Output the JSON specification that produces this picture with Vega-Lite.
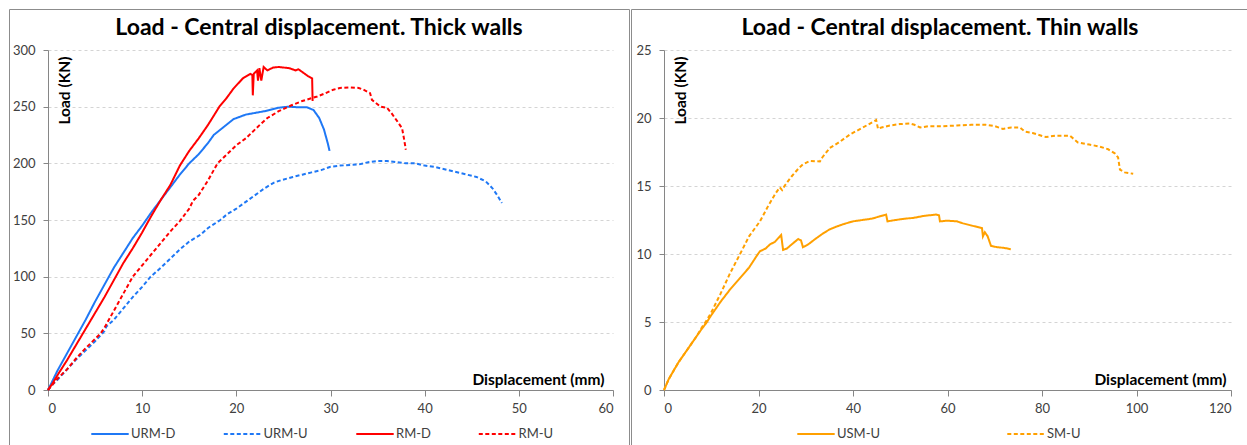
{
  "$schema": "https://vega.github.io/schema/vega-lite/v6.json",
  "padding": {"left": 8, "top": 8, "right": 0, "bottom": 0},
  "spacing": 0,
  "background": "white",
  "resolve": {"scale": {"color": "independent", "strokeDash": "independent"}, "legend": {"color": "independent", "strokeDash": "independent"}},
  "config": {
    "font": "Lato",
    "view": {"stroke": "#8c8c8c", "strokeWidth": 1},
    "axis": {
      "domainColor": "#868686",
      "tickColor": "#868686",
      "labelColor": "#404040",
      "labelFontSize": 13,
      "labelFont": "Lato",
      "titleFont": "Lato",
      "titleFontSize": 15.5,
      "titleFontWeight": "bold",
      "titleColor": "#000000",
      "gridColor": "#d4d4d4",
      "gridDash": [3, 3],
      "gridWidth": 1
    },
    "title": {"font": "Lato", "fontSize": 23, "fontWeight": "bold", "color": "#000000", "anchor": "middle", "frame": "group", "offset": -31},
    "legend": {"labelFont": "Lato", "labelFontSize": 13, "labelColor": "#404040"}
  },
  "hconcat": [
    {
      "width": 620,
      "height": 436,
      "title": {"text": "Load - Central displacement. Thick walls"},
      "data": {"values": [
        {"series":"URM-D","disp":0,"load":0},{"series":"URM-D","disp":0.3,"load":5},{"series":"URM-D","disp":1,"load":17},{"series":"URM-D","disp":2,"load":32},{"series":"URM-D","disp":3,"load":47},{"series":"URM-D","disp":4,"load":62},{"series":"URM-D","disp":5,"load":78},{"series":"URM-D","disp":6,"load":93},{"series":"URM-D","disp":7,"load":108},{"series":"URM-D","disp":8,"load":121},{"series":"URM-D","disp":9,"load":134},{"series":"URM-D","disp":10,"load":145},{"series":"URM-D","disp":11,"load":157},{"series":"URM-D","disp":12,"load":168},{"series":"URM-D","disp":13,"load":179},{"series":"URM-D","disp":14,"load":190},{"series":"URM-D","disp":15,"load":200},{"series":"URM-D","disp":16,"load":208},{"series":"URM-D","disp":17,"load":218},{"series":"URM-D","disp":17.6,"load":225},{"series":"URM-D","disp":18.5,"load":231},{"series":"URM-D","disp":19.7,"load":239},{"series":"URM-D","disp":21,"load":243},{"series":"URM-D","disp":22,"load":244.5},{"series":"URM-D","disp":23,"load":246},{"series":"URM-D","disp":24.4,"load":249},{"series":"URM-D","disp":25.5,"load":250},{"series":"URM-D","disp":26.5,"load":249.5},{"series":"URM-D","disp":27.5,"load":249.5},{"series":"URM-D","disp":28.2,"load":247},{"series":"URM-D","disp":28.8,"load":240},{"series":"URM-D","disp":29.3,"load":230},{"series":"URM-D","disp":29.7,"load":218},{"series":"URM-D","disp":29.9,"load":211},
        {"series":"URM-U","disp":0,"load":0},{"series":"URM-U","disp":0.5,"load":5},{"series":"URM-U","disp":1,"load":9},{"series":"URM-U","disp":2,"load":18},{"series":"URM-U","disp":3,"load":27},{"series":"URM-U","disp":4,"load":35},{"series":"URM-U","disp":5,"load":43},{"series":"URM-U","disp":6,"load":52},{"series":"URM-U","disp":6.2,"load":56},{"series":"URM-U","disp":7,"load":62},{"series":"URM-U","disp":8,"load":72},{"series":"URM-U","disp":9,"load":82},{"series":"URM-U","disp":10,"load":91},{"series":"URM-U","disp":10.9,"load":100},{"series":"URM-U","disp":12,"load":108},{"series":"URM-U","disp":13,"load":116},{"series":"URM-U","disp":14,"load":124},{"series":"URM-U","disp":15,"load":131},{"series":"URM-U","disp":16.2,"load":137},{"series":"URM-U","disp":17,"load":143},{"series":"URM-U","disp":18.3,"load":150},{"series":"URM-U","disp":19,"load":155},{"series":"URM-U","disp":20,"load":160},{"series":"URM-U","disp":21,"load":166},{"series":"URM-U","disp":22,"load":172},{"series":"URM-U","disp":23,"load":178},{"series":"URM-U","disp":24,"load":183},{"series":"URM-U","disp":24.7,"load":185},{"series":"URM-U","disp":26,"load":188},{"series":"URM-U","disp":27,"load":190},{"series":"URM-U","disp":28,"load":192},{"series":"URM-U","disp":29,"load":194},{"series":"URM-U","disp":30,"load":197},{"series":"URM-U","disp":31,"load":198},{"series":"URM-U","disp":33,"load":199},{"series":"URM-U","disp":34,"load":201},{"series":"URM-U","disp":35,"load":202},{"series":"URM-U","disp":36,"load":202},{"series":"URM-U","disp":37,"load":201},{"series":"URM-U","disp":38,"load":200},{"series":"URM-U","disp":39,"load":200},{"series":"URM-U","disp":40,"load":198},{"series":"URM-U","disp":41,"load":197},{"series":"URM-U","disp":42,"load":195},{"series":"URM-U","disp":43,"load":193},{"series":"URM-U","disp":44.5,"load":190},{"series":"URM-U","disp":45.5,"load":188},{"series":"URM-U","disp":46.5,"load":184},{"series":"URM-U","disp":47.2,"load":178},{"series":"URM-U","disp":47.7,"load":172},{"series":"URM-U","disp":48.2,"load":165},
        {"series":"RM-D","disp":0,"load":0},{"series":"RM-D","disp":0.5,"load":6},{"series":"RM-D","disp":1,"load":13},{"series":"RM-D","disp":2,"load":26},{"series":"RM-D","disp":3,"load":40},{"series":"RM-D","disp":4,"load":54},{"series":"RM-D","disp":5,"load":68},{"series":"RM-D","disp":6,"load":82},{"series":"RM-D","disp":7,"load":97},{"series":"RM-D","disp":8,"load":112},{"series":"RM-D","disp":9,"load":125},{"series":"RM-D","disp":10,"load":139},{"series":"RM-D","disp":11,"load":154},{"series":"RM-D","disp":12,"load":168},{"series":"RM-D","disp":13,"load":181},{"series":"RM-D","disp":14,"load":198},{"series":"RM-D","disp":15,"load":211},{"series":"RM-D","disp":16,"load":222},{"series":"RM-D","disp":17,"load":234},{"series":"RM-D","disp":17.6,"load":242},{"series":"RM-D","disp":18.2,"load":250},{"series":"RM-D","disp":19,"load":258},{"series":"RM-D","disp":19.7,"load":266},{"series":"RM-D","disp":20.7,"load":275},{"series":"RM-D","disp":21.5,"load":279},{"series":"RM-D","disp":21.7,"load":278},{"series":"RM-D","disp":21.75,"load":260},{"series":"RM-D","disp":21.85,"load":279},{"series":"RM-D","disp":22.2,"load":282},{"series":"RM-D","disp":22.3,"load":273},{"series":"RM-D","disp":22.45,"load":284},{"series":"RM-D","disp":22.65,"load":273},{"series":"RM-D","disp":22.9,"load":285},{"series":"RM-D","disp":23.3,"load":282},{"series":"RM-D","disp":23.9,"load":284.5},{"series":"RM-D","disp":24.5,"load":285},{"series":"RM-D","disp":25.6,"load":284},{"series":"RM-D","disp":26.3,"load":282},{"series":"RM-D","disp":26.6,"load":283},{"series":"RM-D","disp":27.6,"load":277},{"series":"RM-D","disp":28.05,"load":275},{"series":"RM-D","disp":28.1,"load":255},
        {"series":"RM-U","disp":0,"load":0},{"series":"RM-U","disp":0.5,"load":5},{"series":"RM-U","disp":1,"load":10},{"series":"RM-U","disp":2,"load":18},{"series":"RM-U","disp":3,"load":28},{"series":"RM-U","disp":4,"load":37},{"series":"RM-U","disp":5,"load":45},{"series":"RM-U","disp":5.6,"load":50},{"series":"RM-U","disp":6,"load":55},{"series":"RM-U","disp":7,"load":70},{"series":"RM-U","disp":8,"load":85},{"series":"RM-U","disp":9,"load":100},{"series":"RM-U","disp":10,"load":110},{"series":"RM-U","disp":11,"load":120},{"series":"RM-U","disp":12,"load":130},{"series":"RM-U","disp":13,"load":140},{"series":"RM-U","disp":14,"load":149},{"series":"RM-U","disp":15,"load":160},{"series":"RM-U","disp":15.4,"load":167},{"series":"RM-U","disp":16,"load":172},{"series":"RM-U","disp":17,"load":185},{"series":"RM-U","disp":18,"load":200},{"series":"RM-U","disp":19,"load":208},{"series":"RM-U","disp":20,"load":216},{"series":"RM-U","disp":21,"load":222},{"series":"RM-U","disp":21.5,"load":226},{"series":"RM-U","disp":22.5,"load":234},{"series":"RM-U","disp":23.3,"load":240},{"series":"RM-U","disp":24.5,"load":246},{"series":"RM-U","disp":25.8,"load":251},{"series":"RM-U","disp":27,"load":255},{"series":"RM-U","disp":28.2,"load":258},{"series":"RM-U","disp":28.6,"load":259},{"series":"RM-U","disp":29.5,"load":262},{"series":"RM-U","disp":30.3,"load":265},{"series":"RM-U","disp":31,"load":266.5},{"series":"RM-U","disp":32.1,"load":267},{"series":"RM-U","disp":33,"load":266.5},{"series":"RM-U","disp":33.5,"load":265},{"series":"RM-U","disp":34.2,"load":262},{"series":"RM-U","disp":34.4,"load":256},{"series":"RM-U","disp":35.3,"load":250},{"series":"RM-U","disp":36,"load":249},{"series":"RM-U","disp":36.5,"load":244},{"series":"RM-U","disp":37.1,"load":237},{"series":"RM-U","disp":37.6,"load":231},{"series":"RM-U","disp":37.8,"load":222},{"series":"RM-U","disp":38,"load":212}
      ]},
      "mark": {"type": "line", "strokeWidth": 2},
      "encoding": {
        "x": {"field": "disp", "type": "quantitative",
          "scale": {"domain": [0, 60], "range": [39, 604], "nice": false, "zero": false},
          "axis": {"values": [0, 10, 20, 30, 40, 50, 60], "grid": false, "offset": -55, "tickSize": 6, "labelPadding": 6,
            "title": "Displacement (mm)", "titleX": 595, "titleY": -6, "titleAlign": "right", "titleBaseline": "alphabetic", "titleAnchor": null}},
        "y": {"field": "load", "type": "quantitative",
          "scale": {"domain": [0, 300], "range": [381, 41], "nice": false, "zero": false},
          "axis": {"values": [0, 50, 100, 150, 200, 250, 300], "grid": true, "offset": -39, "tickSize": 5, "labelPadding": 8,
            "title": "Load (KN)", "titleX": 21, "titleY": 47, "titleAngle": 270, "titleAlign": "right", "titleBaseline": "alphabetic", "titleAnchor": null}},
        "color": {"field": "series", "type": "nominal",
          "scale": {"domain": ["URM-D", "URM-U", "RM-D", "RM-U"], "range": ["#1f78f5", "#1f78f5", "#ff0000", "#ff0000"]},
          "legend": {"title": null, "orient": "none", "legendX": 81, "legendY": 405, "direction": "horizontal", "columns": 4, "symbolType": "stroke", "symbolSize": 1400, "symbolStrokeWidth": 2, "labelOffset": 1, "columnPadding": 43.5, "padding": 0}},
        "strokeDash": {"field": "series", "type": "nominal",
          "scale": {"domain": ["URM-D", "URM-U", "RM-D", "RM-U"], "range": [[1, 0], [4, 2.5], [1, 0], [4, 2.5]]},
          "legend": {"title": null, "orient": "none", "legendX": 81, "legendY": 405, "direction": "horizontal", "columns": 4, "symbolType": "stroke", "symbolSize": 1400, "symbolStrokeWidth": 2, "labelOffset": 1, "columnPadding": 43.5, "padding": 0}}
      }
    },
    {
      "width": 618,
      "height": 436,
      "title": {"text": "Load - Central displacement. Thin walls"},
      "data": {"values": [
        {"series":"USM-U","disp":0,"load":0},{"series":"USM-U","disp":0.5,"load":0.4},{"series":"USM-U","disp":1,"load":0.8},{"series":"USM-U","disp":2,"load":1.4},{"series":"USM-U","disp":3,"load":2.0},{"series":"USM-U","disp":4,"load":2.5},{"series":"USM-U","disp":5,"load":3.0},{"series":"USM-U","disp":6,"load":3.5},{"series":"USM-U","disp":7,"load":4.0},{"series":"USM-U","disp":8,"load":4.5},{"series":"USM-U","disp":8.9,"load":4.9},{"series":"USM-U","disp":10,"load":5.5},{"series":"USM-U","disp":12,"load":6.5},{"series":"USM-U","disp":14,"load":7.4},{"series":"USM-U","disp":16,"load":8.2},{"series":"USM-U","disp":18,"load":9.0},{"series":"USM-U","disp":19.5,"load":9.8},{"series":"USM-U","disp":20.3,"load":10.2},{"series":"USM-U","disp":21.5,"load":10.4},{"series":"USM-U","disp":22.4,"load":10.7},{"series":"USM-U","disp":23.5,"load":10.9},{"series":"USM-U","disp":24.8,"load":11.4},{"series":"USM-U","disp":25.2,"load":10.3},{"series":"USM-U","disp":26,"load":10.4},{"series":"USM-U","disp":27,"load":10.7},{"series":"USM-U","disp":28.4,"load":11.1},{"series":"USM-U","disp":29,"load":11.0},{"series":"USM-U","disp":29.4,"load":10.5},{"series":"USM-U","disp":30.5,"load":10.7},{"series":"USM-U","disp":32,"load":11.1},{"series":"USM-U","disp":33.6,"load":11.5},{"series":"USM-U","disp":35,"load":11.8},{"series":"USM-U","disp":36.4,"load":12.0},{"series":"USM-U","disp":38,"load":12.2},{"series":"USM-U","disp":40,"load":12.4},{"series":"USM-U","disp":42,"load":12.5},{"series":"USM-U","disp":44,"load":12.6},{"series":"USM-U","disp":45.5,"load":12.75},{"series":"USM-U","disp":47,"load":12.9},{"series":"USM-U","disp":47.3,"load":12.4},{"series":"USM-U","disp":49,"load":12.5},{"series":"USM-U","disp":51,"load":12.6},{"series":"USM-U","disp":52.7,"load":12.65},{"series":"USM-U","disp":55,"load":12.8},{"series":"USM-U","disp":57.6,"load":12.9},{"series":"USM-U","disp":58.2,"load":12.85},{"series":"USM-U","disp":58.4,"load":12.4},{"series":"USM-U","disp":60,"load":12.45},{"series":"USM-U","disp":62,"load":12.4},{"series":"USM-U","disp":63.3,"load":12.25},{"series":"USM-U","disp":65,"load":12.1},{"series":"USM-U","disp":67.3,"load":11.9},{"series":"USM-U","disp":67.5,"load":11.3},{"series":"USM-U","disp":67.9,"load":11.6},{"series":"USM-U","disp":68.5,"load":11.3},{"series":"USM-U","disp":69.2,"load":10.6},{"series":"USM-U","disp":70.5,"load":10.5},{"series":"USM-U","disp":72,"load":10.45},{"series":"USM-U","disp":73.4,"load":10.35},
        {"series":"SM-U","disp":0,"load":0},{"series":"SM-U","disp":0.5,"load":0.4},{"series":"SM-U","disp":1,"load":0.8},{"series":"SM-U","disp":2,"load":1.4},{"series":"SM-U","disp":3,"load":2.0},{"series":"SM-U","disp":4,"load":2.5},{"series":"SM-U","disp":5,"load":3.0},{"series":"SM-U","disp":6,"load":3.5},{"series":"SM-U","disp":7,"load":4.0},{"series":"SM-U","disp":8,"load":4.6},{"series":"SM-U","disp":9,"load":5.1},{"series":"SM-U","disp":10,"load":5.7},{"series":"SM-U","disp":12,"load":7.1},{"series":"SM-U","disp":14,"load":8.6},{"series":"SM-U","disp":16.1,"load":10.0},{"series":"SM-U","disp":18,"load":11.3},{"series":"SM-U","disp":20.3,"load":12.4},{"series":"SM-U","disp":22,"load":13.5},{"series":"SM-U","disp":23.5,"load":14.4},{"series":"SM-U","disp":24.5,"load":14.9},{"series":"SM-U","disp":25,"load":14.7},{"series":"SM-U","disp":25.5,"load":15.0},{"series":"SM-U","disp":27,"load":15.7},{"series":"SM-U","disp":28.5,"load":16.3},{"series":"SM-U","disp":29.4,"load":16.6},{"series":"SM-U","disp":30.9,"load":16.85},{"series":"SM-U","disp":33,"load":16.8},{"series":"SM-U","disp":33.5,"load":17.1},{"series":"SM-U","disp":35.1,"load":17.8},{"series":"SM-U","disp":37,"load":18.2},{"series":"SM-U","disp":39.4,"load":18.8},{"series":"SM-U","disp":42.1,"load":19.3},{"series":"SM-U","disp":44.9,"load":19.85},{"series":"SM-U","disp":45.3,"load":19.2},{"series":"SM-U","disp":46,"load":19.3},{"series":"SM-U","disp":47.8,"load":19.45},{"series":"SM-U","disp":49.9,"load":19.55},{"series":"SM-U","disp":52,"load":19.6},{"series":"SM-U","disp":53,"load":19.5},{"series":"SM-U","disp":54.2,"load":19.3},{"series":"SM-U","disp":56,"load":19.4},{"series":"SM-U","disp":59,"load":19.4},{"series":"SM-U","disp":62,"load":19.45},{"series":"SM-U","disp":65,"load":19.5},{"series":"SM-U","disp":68.1,"load":19.5},{"series":"SM-U","disp":70,"load":19.4},{"series":"SM-U","disp":71.7,"load":19.2},{"series":"SM-U","disp":73.5,"load":19.3},{"series":"SM-U","disp":75.3,"load":19.3},{"series":"SM-U","disp":76.4,"load":19.0},{"series":"SM-U","disp":78,"load":18.9},{"series":"SM-U","disp":80.8,"load":18.6},{"series":"SM-U","disp":83,"load":18.7},{"series":"SM-U","disp":85.9,"load":18.7},{"series":"SM-U","disp":87.6,"load":18.2},{"series":"SM-U","disp":90,"load":18.05},{"series":"SM-U","disp":92.2,"load":17.9},{"series":"SM-U","disp":94,"load":17.7},{"series":"SM-U","disp":95.4,"load":17.4},{"series":"SM-U","disp":96.1,"load":17.1},{"series":"SM-U","disp":96.5,"load":16.2},{"series":"SM-U","disp":97.5,"load":16.0},{"series":"SM-U","disp":99.3,"load":15.9}
      ]},
      "mark": {"type": "line", "strokeWidth": 2},
      "encoding": {
        "x": {"field": "disp", "type": "quantitative",
          "scale": {"domain": [0, 120], "range": [33, 600], "nice": false, "zero": false},
          "axis": {"values": [0, 20, 40, 60, 80, 100, 120], "grid": false, "offset": -55, "tickSize": 6, "labelPadding": 6,
            "title": "Displacement (mm)", "titleX": 595, "titleY": -6, "titleAlign": "right", "titleBaseline": "alphabetic", "titleAnchor": null}},
        "y": {"field": "load", "type": "quantitative",
          "scale": {"domain": [0, 25], "range": [381, 41], "nice": false, "zero": false},
          "axis": {"values": [0, 5, 10, 15, 20, 25], "grid": true, "offset": -33, "tickSize": 5, "labelPadding": 8,
            "title": "Load (KN)", "titleX": 21, "titleY": 47, "titleAngle": 270, "titleAlign": "right", "titleBaseline": "alphabetic", "titleAnchor": null}},
        "color": {"field": "series", "type": "nominal",
          "scale": {"domain": ["USM-U", "SM-U"], "range": ["#ffa000", "#ffa000"]},
          "legend": {"title": null, "orient": "none", "legendX": 165, "legendY": 405, "direction": "horizontal", "columns": 2, "symbolType": "stroke", "symbolSize": 1400, "symbolStrokeWidth": 2, "labelOffset": 1, "columnPadding": 122, "padding": 0}},
        "strokeDash": {"field": "series", "type": "nominal",
          "scale": {"domain": ["USM-U", "SM-U"], "range": [[1, 0], [4, 2.5]]},
          "legend": {"title": null, "orient": "none", "legendX": 165, "legendY": 405, "direction": "horizontal", "columns": 2, "symbolType": "stroke", "symbolSize": 1400, "symbolStrokeWidth": 2, "labelOffset": 1, "columnPadding": 122, "padding": 0}}
      }
    }
  ]
}
